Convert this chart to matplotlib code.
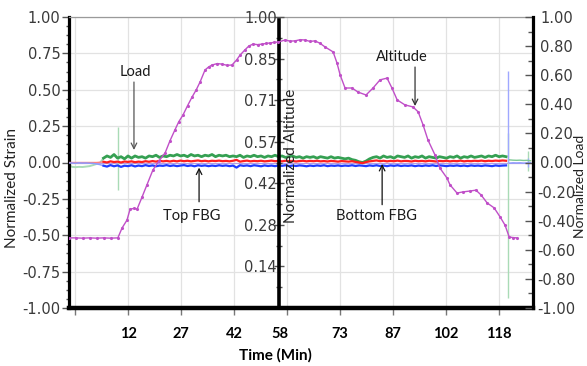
import matplotlib
matplotlib.use("Agg")
import matplotlib.pyplot as plt
import matplotlib.transforms as mtransforms
from matplotlib.ticker import FixedLocator

plt.rcParams['axes.unicode_minus'] = False

# ---------------- data ----------------
# one-minute samples of the three strain channels
minutes = list(range(-5, 121))

green_strain = [
    -0.015, -0.03, -0.032, -0.03, -0.031, -0.028, -0.025, -0.018, -0.01, -0.002,
    0.03, 0.045, 0.035, 0.055, 0.03, 0.04, 0.025, 0.045, 0.03, 0.045,
    0.035, 0.04, 0.03, 0.045, 0.04, 0.05, 0.035, 0.045, 0.04, 0.05,
    0.045, 0.055, 0.045, 0.05, 0.04, 0.055, 0.045, 0.05, 0.04, 0.05,
    0.045, 0.055, 0.04, 0.05, 0.045, 0.05, 0.04, 0.045, 0.04, 0.05,
    0.035, 0.045, 0.04, 0.05, 0.04, 0.045, 0.035, 0.045, 0.04, 0.05,
    0.04, 0.045, 0.035, 0.04, 0.045, 0.035, 0.04, 0.03, 0.04, 0.035,
    0.04, 0.03, 0.04, 0.035, 0.03, 0.04, 0.03, 0.035, 0.03, 0.025,
    0.03, 0.02, 0.015, 0.005, 0.0, 0.01, 0.025, 0.035, 0.04, 0.03,
    0.045, 0.035, 0.04, 0.03, 0.045, 0.04, 0.035, 0.045, 0.03, 0.04,
    0.035, 0.045, 0.03, 0.04, 0.035, 0.03, 0.04, 0.035, 0.03, 0.04,
    0.035, 0.045, 0.03, 0.04, 0.035, 0.045, 0.035, 0.04, 0.045, 0.035,
    0.045, 0.04, 0.05, 0.04, 0.045, 0.04,
]

red_strain = [
    0.0, 0.0, 0.0, 0.0, 0.0, 0.0, 0.0, 0.0, 0.0, 0.002,
    0.005, 0.0, 0.008, 0.003, 0.006, 0.0, 0.007, 0.004, 0.008, 0.002,
    0.006, 0.003, 0.009, 0.005, 0.01, 0.006, 0.012, 0.008, 0.011, 0.007,
    0.012, 0.008, 0.013, 0.009, 0.012, 0.008, 0.011, 0.014, 0.009, 0.012,
    0.008, 0.012, 0.01, 0.013, 0.009, 0.011, 0.008, 0.012, 0.018, 0.006,
    0.01, 0.013, 0.008, 0.011, 0.009, 0.012, 0.008, 0.01, 0.013, 0.009,
    0.011, 0.008, 0.012, 0.009, 0.011, 0.007, 0.01, 0.012, 0.008, 0.011,
    0.009, 0.012, 0.008, 0.01, 0.007, 0.011, 0.009, 0.006, 0.01, 0.008,
    0.006, 0.009, 0.004, 0.0, -0.004, 0.003, 0.008, 0.011, 0.014, 0.009,
    0.012, 0.008, 0.011, 0.009, 0.013, 0.008, 0.011, 0.01, 0.007, 0.012,
    0.009, 0.011, 0.008, 0.012, 0.01, 0.007, 0.011, 0.009, 0.012, 0.008,
    0.011, 0.009, 0.013, 0.008, 0.011, 0.009, 0.012, 0.01, 0.013, 0.009,
    0.012, 0.01, 0.013, 0.011, 0.014, 0.012,
]

blue_strain = [
    -0.004, -0.003, -0.005, -0.002, -0.004, -0.003, -0.005, -0.006, -0.01, -0.015,
    -0.022, -0.028, -0.018, -0.026, -0.02, -0.03, -0.022, -0.025, -0.019, -0.027,
    -0.021, -0.025, -0.018, -0.024, -0.02, -0.026, -0.021, -0.023, -0.018, -0.024,
    -0.02, -0.025, -0.021, -0.018, -0.024, -0.02, -0.026, -0.019, -0.023, -0.02,
    -0.025, -0.021, -0.024, -0.019, -0.023, -0.02, -0.025, -0.021, -0.035, -0.019,
    -0.023, -0.02, -0.025, -0.019, -0.022, -0.026, -0.02, -0.024, -0.021, -0.025,
    -0.02, -0.023, -0.019, -0.025, -0.021, -0.024, -0.02, -0.022, -0.026, -0.021,
    -0.024, -0.02, -0.023, -0.019, -0.025, -0.021, -0.023, -0.02, -0.024, -0.021,
    -0.023, -0.019, -0.024, -0.02, -0.022, -0.025, -0.02, -0.023, -0.019, -0.024,
    -0.021, -0.025, -0.02, -0.023, -0.019, -0.024, -0.021, -0.023, -0.02, -0.025,
    -0.021, -0.024, -0.02, -0.023, -0.019, -0.024, -0.02, -0.022, -0.025, -0.021,
    -0.023, -0.02, -0.024, -0.021, -0.025, -0.02, -0.023, -0.021, -0.024, -0.02,
    -0.022, -0.025, -0.02, -0.023, -0.021, -0.02,
]

# readings after the unloading spike
tail_minutes = [121, 122, 123, 124, 125, 126, 127]
green_tail = [0.018, 0.016, 0.015, 0.016, 0.014, 0.015, 0.012]
blue_tail = [-0.004, -0.002, -0.003, -0.002, -0.004, -0.003, -0.002]

# short transients: time, low, high
green_spike_minutes = [9.1, 120.6, 126.3]
green_spike_low = [-0.19, -0.93, -0.06]
green_spike_high = [0.245, 0.2, 0.08]
blue_spike_minutes = [120.6, 126.3]
blue_spike_low = [0.0, -0.03]
blue_spike_high = [0.63, 0.03]

# normalized load baseline
baseline_minutes = [-5, 127.5]
baseline_load = [0.0, 0.0]

# normalized altitude profile
alt_minutes = [-5, -3, -1, 1, 3, 5, 7, 9.1, 10.3, 11.7, 12.6, 13.6, 14.6, 16.0, 17.4,
               19.1, 20.8, 22.6, 24.0, 25.4, 26.5, 27.7, 29.0, 30.3, 31.5, 32.6, 34.0,
               35.0, 36.0, 37.5, 38.9, 40.3, 41.7, 43.0, 44.0, 45.4, 46.5, 47.7, 49.0,
               50.3, 51.5, 52.6, 53.8, 54.9, 56.9, 58.3, 59.7, 61.2, 62.6, 64.0, 65.4,
               66.8, 68.3, 70.6, 71.7, 72.6, 74.0, 76.0, 77.7, 80.0, 82.0, 84.0, 86.0,
               87.4, 88.9, 91.1, 93.4, 94.9, 96.3, 97.7, 99.7, 101.1, 103.1, 104.0,
               106.0, 107.7, 109.7, 111.4, 112.9, 114.6, 116.6, 118.3, 119.7, 120.9,
               122.0, 123.1]
altitude = [0.241, 0.241, 0.240, 0.241, 0.240, 0.241, 0.240, 0.241, 0.275, 0.302,
            0.340, 0.342, 0.340, 0.381, 0.423, 0.474, 0.505, 0.533, 0.575, 0.612,
            0.640, 0.663, 0.695, 0.725, 0.750, 0.777, 0.818, 0.828, 0.835, 0.840,
            0.838, 0.834, 0.835, 0.852, 0.869, 0.887, 0.900, 0.907, 0.905, 0.907,
            0.909, 0.911, 0.913, 0.914, 0.921, 0.917, 0.918, 0.922, 0.921, 0.916,
            0.918, 0.910, 0.897, 0.880, 0.842, 0.801, 0.756, 0.756, 0.742, 0.732,
            0.756, 0.784, 0.790, 0.756, 0.715, 0.698, 0.691, 0.674, 0.629, 0.577,
            0.526, 0.481, 0.447, 0.423, 0.395, 0.399, 0.402, 0.405, 0.388, 0.361,
            0.344, 0.313, 0.285, 0.244, 0.242, 0.241]

# time axis ticks
time_ticks = [-3.14, 12, 27.14, 42.29, 57.43, 72.57, 87.71, 102.86, 118]
time_labels = ['', '12', '27', '42', '58', '73', '87', '102', '118']

strain_ticks = [-1.0, -0.75, -0.5, -0.25, 0.0, 0.25, 0.5, 0.75, 1.0]
strain_labels = ['-1.00', '-0.75', '-0.50', '-0.25', '0.00', '0.25', '0.50', '0.75', '1.00']

alt_ticks = [1/7, 2/7, 3/7, 4/7, 5/7, 6/7, 1.0]
alt_labels = ['0.14', '0.28', '0.42', '0.57', '0.71', '0.85', '1.00']

load_ticks = [-1.0, -0.8, -0.6, -0.4, -0.2, 0.0, 0.2, 0.4, 0.6, 0.8, 1.0]
load_labels = ['-1.00', '-0.80', '-0.60', '-0.40', '-0.20', '0.00', '0.20', '0.40',
               '0.60', '0.80', '1.00']

# ---------------- figure ----------------
W, H = 587, 366
fig = plt.figure(figsize=(W / 100, H / 100), dpi=100)
ax = fig.add_axes([69 / W, (H - 308) / H, (533 - 69) / W, (308 - 17) / H])
ax.set_xlim(-4.86, 127.7)
ax.set_ylim(-1, 1)

GREEN = '#35a052'
LIGHT_GREEN = '#a9dbb6'
RED = '#ff1f1f'
BLUE = '#1f3cff'
MAGENTA = '#c04fc8'
TICK_GREY = '#3a3a3a'

ax.grid(True, color='#e2e2e2', lw=0.9, zorder=0)
ax.set_axisbelow(True)

n_pre = 10
ax.plot(minutes[:n_pre + 1], green_strain[:n_pre + 1], color=LIGHT_GREEN, lw=1.4, zorder=2)
ax.plot(baseline_minutes, baseline_load, color='#b49ce6', lw=0.8, zorder=2)
ax.vlines(green_spike_minutes, green_spike_low, green_spike_high, color=LIGHT_GREEN,
          lw=1.0, zorder=2)
ax.vlines(blue_spike_minutes, blue_spike_low, blue_spike_high, color='#9fa8ff',
          lw=1.0, zorder=2)
ax.plot(tail_minutes, green_tail, color='#7cc893', lw=1.0, zorder=2)
ax.plot(tail_minutes, blue_tail, color='#8c9cff', lw=1.0, zorder=2)
ax.plot(minutes[n_pre:], green_strain[n_pre:], color=GREEN, lw=2.0, zorder=3)
ax.plot(minutes[:n_pre + 1], red_strain[:n_pre + 1], color='#ff8080', lw=1.0, zorder=3)
ax.plot(minutes[n_pre:], red_strain[n_pre:], color=RED, lw=1.6, zorder=4)
ax.plot(minutes[:n_pre + 1], blue_strain[:n_pre + 1], color='#8c9cff', lw=1.0, zorder=3)
ax.plot(minutes[n_pre:], blue_strain[n_pre:], color=BLUE, lw=1.6, zorder=4)

# left axis: normalized strain
ax.set_yticks(strain_ticks, strain_labels)
ax.yaxis.set_minor_locator(FixedLocator([i / 16 - 1 for i in range(33)]))
ax.tick_params(axis='y', which='major', direction='out', length=5, width=1,
               color='#555555', labelsize=10.5, labelcolor=TICK_GREY, pad=1)
ax.tick_params(axis='y', which='minor', direction='out', length=2.5, width=1,
               color='#555555')
ax.set_xticks(time_ticks, time_labels)
ax.tick_params(axis='x', which='major', direction='out', length=5, width=1,
               color='#777777', labelsize=10.5, pad=9)
for lab in ax.get_xticklabels():
    lab.set_fontweight('bold')
    lab.set_family('Lato')
shift = mtransforms.ScaledTranslation(-0.07, 0, fig.dpi_scale_trans)
lab58 = ax.get_xticklabels()[4]
lab58.set_transform(lab58.get_transform() + shift)

for side in ['left', 'right']:
    ax.spines[side].set_visible(side == 'left')
ax.spines['left'].set_linewidth(2.3)
ax.spines['left'].set_color('black')
ax.spines['bottom'].set_linewidth(3.2)
ax.spines['bottom'].set_color('black')
ax.spines['top'].set_linewidth(0.9)
ax.spines['top'].set_color('#9a9a9a')

# middle axis: normalized altitude
ax_mid = ax.twinx()
ax_mid.set_ylim(0, 1)
for side in ['top', 'bottom', 'right']:
    ax_mid.spines[side].set_visible(False)
ax_mid.spines['left'].set_visible(True)
ax_mid.spines['left'].set_position(('data', 55.14))
ax_mid.spines['left'].set_linewidth(2.6)
ax_mid.spines['left'].set_color('black')
ax_mid.spines['left'].set_bounds(0, 0.99)
ax_mid.yaxis.tick_left()
ax_mid.set_yticks(alt_ticks, alt_labels)
ax_mid.yaxis.set_minor_locator(FixedLocator([(2 * k + 1) / 14 for k in range(7)]))
ax_mid.tick_params(axis='y', which='major', direction='inout', length=7, width=1,
                   color='#555555', labelsize=10.5, labelcolor=TICK_GREY, pad=-2)
ax_mid.tick_params(axis='y', which='minor', direction='inout', length=4, width=1,
                   color='#555555')
ax_mid.plot(alt_minutes, altitude, color=MAGENTA, lw=1.0, marker='.', ms=2.5,
            zorder=5)

# right axis: normalized load
ax_r = ax.twinx()
ax_r.set_ylim(-1, 1)
for side in ['top', 'bottom', 'left']:
    ax_r.spines[side].set_visible(False)
ax_r.spines['right'].set_linewidth(2.3)
ax_r.spines['right'].set_color('black')
ax_r.set_yticks(load_ticks, load_labels)
ax_r.yaxis.set_minor_locator(FixedLocator([i / 10 - 1 for i in range(21)]))
ax_r.tick_params(axis='y', which='major', direction='in', length=6, width=1,
                 color='#555555', labelsize=10.5, labelcolor=TICK_GREY, pad=17)
ax_r.tick_params(axis='y', which='minor', direction='in', length=3.5, width=1,
                 color='#555555')
for lab in ax_r.get_yticklabels():
    lab.set_horizontalalignment('center')

# annotations (strain units, shared with the load axis)
txt = dict(fontsize=10.5, family='Lato', color='#1a1a1a', ha='center', va='center')
arrow = dict(arrowstyle='->', lw=0.9, shrinkA=0, shrinkB=0)
ax_r.text(14.0, 0.622, 'Load', **txt)
ax_r.annotate('', xy=(13.7, 0.086), xytext=(13.7, 0.553),
              arrowprops=dict(arrow, color='#555555'))
ax_r.text(30.3, -0.368, 'Top FBG', **txt)
ax_r.annotate('', xy=(32.3, -0.035), xytext=(32.3, -0.27),
              arrowprops=dict(arrow, color='#111111'))
ax_r.text(82.9, -0.368, 'Bottom FBG', **txt)
ax_r.annotate('', xy=(84.6, -0.01), xytext=(84.6, -0.29),
              arrowprops=dict(arrow, color='#111111'))
ax_r.text(90.3, 0.725, 'Altitude', **txt)
ax_r.annotate('', xy=(94.0, 0.388), xytext=(94.0, 0.656),
              arrowprops=dict(arrow, color='#333333'))

# axis titles
lab_style = dict(fontsize=11, family='Lato', color='#222222', rotation=90,
                 ha='center', va='center')
fig.text(12 / W, 1 - 188 / H, 'Normalized Strain', **lab_style)
fig.text(291 / W, 1 - 156 / H, 'Normalized Altitude', **lab_style)
fig.text(580.5 / W, 1 - 186 / H, 'Normalized Load', fontsize=10, family='Lato',
         color='#222222', rotation=90, ha='center', va='center')
fig.text(275 / W, 1 - 355 / H, 'Time (Min)', fontsize=11, family='Lato',
         fontweight='bold', color='black', ha='center', va='center')

fig.savefig('out.png', dpi=100)
